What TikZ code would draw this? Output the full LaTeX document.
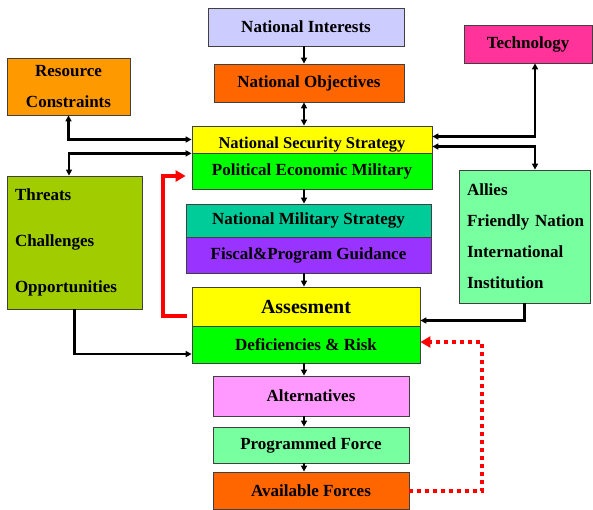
\documentclass[tikz,border=0pt]{standalone}
\usepackage{fontspec}
\setmainfont{Liberation Serif}
\usetikzlibrary{arrows.meta}

\definecolor{interestblue}{RGB}{204,204,255}
\definecolor{deeporange}{RGB}{255,102,0}
\definecolor{lightorange}{RGB}{255,153,0}
\definecolor{hotpink}{RGB}{255,51,153}
\definecolor{brightyellow}{RGB}{255,255,0}
\definecolor{brightgreen}{RGB}{0,255,0}
\definecolor{teal}{RGB}{0,204,153}
\definecolor{violet}{RGB}{153,51,255}
\definecolor{pink}{RGB}{255,153,255}
\definecolor{mint}{RGB}{119,255,160}
\definecolor{olive}{RGB}{160,204,0}

\begin{document}
\begin{tikzpicture}[x=1pt, y=-1pt, font=\bfseries\fontsize{17}{20}\selectfont]
    \tikzset{ box/.style={draw=black!75, line width=0.8pt, inner sep=0pt, align=center},
              link/.style={line width=2.2pt, -{Triangle[length=6pt, width=6pt]}},
              dlink/.style={line width=2.2pt, {Triangle[length=6pt, width=6pt]}-{Triangle[length=6pt, width=6pt]}},
              feedback/.style={red, line width=4pt, -{Triangle[length=10pt, width=11pt]}} }
    \useasboundingbox (0,0) rectangle (593,509);

    % main column
    \node[box, fill=interestblue, minimum width=196, minimum height=38] (ni) at (306,27) {National Interests};
    \node[box, fill=deeporange, minimum width=190, minimum height=38] (no) at (309,83) {National Objectives};
    \node[box, fill=brightyellow, minimum width=240, minimum height=27, text height=21pt, text depth=4pt, font=\bfseries\fontsize{16.5}{19}\selectfont] (nss) at (312,139.5) {National Security Strategy};
    \node[box, fill=brightgreen, minimum width=240, minimum height=36] (pem) at (312,171) {Political Economic Military};
    \node[box, fill=teal, minimum width=245, minimum height=33] (nms) at (308.5,220.5) {National Military Strategy};
    \node[box, fill=violet, minimum width=245, minimum height=36] (fpg) at (308.5,255) {Fiscal\&Program Guidance};
    \node[box, fill=brightyellow, minimum width=228, minimum height=39, font=\bfseries\fontsize{20}{23}\selectfont] (ass) at (306,306.5) {Assesment};
    \node[box, fill=brightgreen, minimum width=228, minimum height=37] (dr) at (306,344.5) {Deficiencies \& Risk};
    \node[box, fill=pink, minimum width=196, minimum height=40] (alt) at (311,396) {Alternatives};
    \node[box, fill=mint, minimum width=196, minimum height=36] (pf) at (311,445) {Programmed Force};
    \node[box, fill=deeporange, minimum width=196, minimum height=37] (af) at (311,490.5) {Available Forces};

    % side boxes
    \node[box, fill=lightorange, minimum width=123, minimum height=57] (rc) at (68.5,86.5) {Resource\\[11pt]Constraints};
    \node[box, fill=hotpink, minimum width=128, minimum height=38] (tech) at (528,44) {Technology};
    \node[box, fill=olive, text width=119, inner xsep=8pt, minimum height=133, align=left] (thr) at (74.5,242.5) {Threats\\[26pt]Challenges\\[26pt]Opportunities};
    \node[box, fill=mint, text width=121, inner xsep=5pt, minimum height=133, align=left] (ally) at (524.5,236.5) {\hspace*{3pt}Allies\\[11pt]\hspace*{3pt}Friendly Nation\\[11pt]\hspace*{3pt}International\\[11pt]\hspace*{3pt}Institution};

    % flow down the column
    \coordinate (spine) at (304,0);
    \draw[link] (ni.south -| spine) -- (no.north -| spine);
    \draw[dlink] (no.south -| spine) -- (nss.north -| spine);
    \foreach \a/\b in {pem/nms, fpg/ass, dr/alt, alt/pf, pf/af}
      \draw[link] (\a.south -| spine) -- (\b.north -| spine);

    % side links
    \draw[dlink] (rc.south) |- (nss.west);
    \draw[dlink] (nss.south west) -| ([xshift=-5.5]thr.north);
    \draw[dlink] ([xshift=7]tech.south) |- ([yshift=3]nss.east);
    \draw[dlink] ([yshift=-7]nss.east) -| ([xshift=10.5]ally.north);
    \draw[link] (ally.south) |- ([yshift=-14]ass.east);
    \draw[link] (thr.south) |- ([yshift=-9.5]dr.west);

    % feedback loops
    \draw[feedback, shorten <=5pt, shorten >=6pt] ([yshift=-9.5]ass.west) -- ++(-29,0) |- ([yshift=-5]pem.west);
    \draw[feedback, dash pattern=on 4pt off 4pt] (af.east) -- ++(73,0) |- ([yshift=2.5]dr.east);
\end{tikzpicture}
\end{document}
